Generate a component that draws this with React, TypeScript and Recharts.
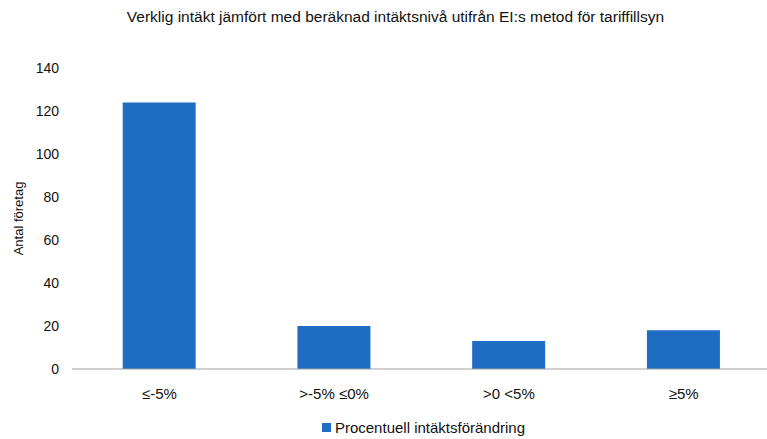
import { Bar, BarChart, Legend, XAxis, YAxis } from "recharts";

const categories = ["≤-5%", ">-5% ≤0%", ">0 <5%", "≥5%"];
const counts = [124, 20, 13, 18];
const yTicks = [0, 20, 40, 60, 80, 100, 120, 140];

const seriesName = "Procentuell intäktsförändring";
const title =
  "Verklig intäkt jämfört med beräknad intäktsnivå utifrån EI:s metod för tariffillsyn";

const data = categories.map((c, i) => ({ cat: c, value: counts[i] }));

const font = "'Liberation Sans', Arial, sans-serif";
const blue = "#1f6dc2";

function LegendBox() {
  return (
    <div
      style={{
        display: "flex",
        justifyContent: "center",
        alignItems: "center",
        fontSize: 15,
        color: "#111",
        height: 20,
        paddingLeft: 66,
      }}
    >
      <span
        style={{
          display: "inline-block",
          width: 9,
          height: 9,
          background: blue,
          marginRight: 4,
        }}
      />
      {seriesName}
    </div>
  );
}

export default function App() {
  return (
    <div
      style={{
        position: "absolute",
        left: 0,
        top: 0,
        width: 767,
        height: 439,
        overflow: "hidden",
        background: "#fff",
        fontFamily: font,
      }}
    >
      <div
        style={{
          position: "absolute",
          top: 8,
          left: 12,
          width: 767,
          textAlign: "center",
          fontSize: 15.5,
          color: "#111",
        }}
      >
        {title}
      </div>
      <BarChart
        width={780}
        height={439}
        data={data}
        margin={{ top: 68, right: 9, bottom: 2, left: 10 }}
        barCategoryGap="29%"
        style={{ fontFamily: font }}
      >
        <XAxis
          dataKey="cat"
          height={48}
          tickLine={false}
          axisLine={{ stroke: "#a0a0a0" }}
          tick={{ fontSize: 15, fill: "#111" }}
          tickMargin={13}
        />
        <YAxis
          width={62}
          domain={[0, 140]}
          ticks={yTicks}
          axisLine={false}
          tickLine={false}
          tickSize={0}
          tickMargin={13}
          tick={{ fontSize: 14, fill: "#111" }}
          label={{
            value: "Antal företag",
            angle: -90,
            position: "insideLeft",
            offset: 8,
            style: { fontSize: 13, fill: "#111", textAnchor: "middle" },
          }}
        />
        <Legend verticalAlign="bottom" content={<LegendBox />} />
        <Bar dataKey="value" name={seriesName} fill={blue} isAnimationActive={false} />
      </BarChart>
    </div>
  );
}
